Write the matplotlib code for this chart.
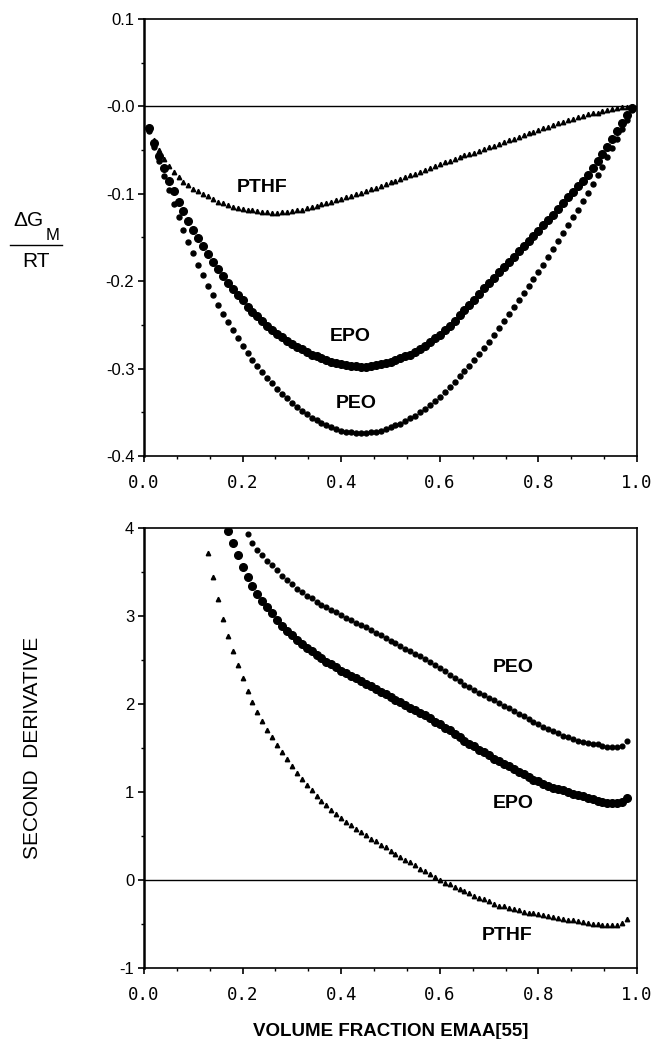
import matplotlib.pyplot as plt
from matplotlib.lines import Line2D

# ---- top panel: dG_M/RT vs volume fraction ----
phi_top = [0.01, 0.02, 0.03, 0.04, 0.05, 0.06, 0.07, 0.08, 0.09, 0.10,
           0.11, 0.12, 0.13, 0.14, 0.15, 0.16, 0.17, 0.18, 0.19, 0.20,
           0.21, 0.22, 0.23, 0.24, 0.25, 0.26, 0.27, 0.28, 0.29, 0.30,
           0.31, 0.32, 0.33, 0.34, 0.35, 0.36, 0.37, 0.38, 0.39, 0.40,
           0.41, 0.42, 0.43, 0.44, 0.45, 0.46, 0.47, 0.48, 0.49, 0.50,
           0.51, 0.52, 0.53, 0.54, 0.55, 0.56, 0.57, 0.58, 0.59, 0.60,
           0.61, 0.62, 0.63, 0.64, 0.65, 0.66, 0.67, 0.68, 0.69, 0.70,
           0.71, 0.72, 0.73, 0.74, 0.75, 0.76, 0.77, 0.78, 0.79, 0.80,
           0.81, 0.82, 0.83, 0.84, 0.85, 0.86, 0.87, 0.88, 0.89, 0.90,
           0.91, 0.92, 0.93, 0.94, 0.95, 0.96, 0.97, 0.98, 0.99]

pthf_g = [-0.025, -0.038, -0.050, -0.060, -0.068, -0.075, -0.081, -0.086, -0.090, -0.094,
          -0.097, -0.100, -0.103, -0.106, -0.109, -0.111, -0.113, -0.115, -0.116, -0.117,
          -0.118, -0.119, -0.120, -0.121, -0.121, -0.122, -0.122, -0.121, -0.121, -0.120,
          -0.119, -0.118, -0.116, -0.115, -0.114, -0.112, -0.111, -0.109, -0.107, -0.106,
          -0.104, -0.102, -0.100, -0.099, -0.097, -0.095, -0.093, -0.091, -0.089, -0.087,
          -0.085, -0.083, -0.081, -0.079, -0.077, -0.075, -0.073, -0.070, -0.068, -0.066,
          -0.064, -0.062, -0.060, -0.058, -0.056, -0.055, -0.053, -0.051, -0.049, -0.047,
          -0.045, -0.043, -0.041, -0.039, -0.037, -0.035, -0.033, -0.031, -0.029, -0.027,
          -0.025, -0.023, -0.021, -0.019, -0.018, -0.016, -0.014, -0.012, -0.011, -0.009,
          -0.008, -0.007, -0.005, -0.004, -0.003, -0.002, -0.001, -0.001, 0.000]

epo_g = [-0.025, -0.042, -0.057, -0.071, -0.085, -0.097, -0.109, -0.120, -0.131, -0.141,
         -0.151, -0.160, -0.169, -0.178, -0.186, -0.194, -0.202, -0.209, -0.216, -0.222,
         -0.229, -0.235, -0.240, -0.246, -0.251, -0.256, -0.260, -0.264, -0.268, -0.272,
         -0.275, -0.278, -0.281, -0.284, -0.286, -0.288, -0.290, -0.292, -0.294, -0.295,
         -0.296, -0.297, -0.297, -0.298, -0.298, -0.297, -0.296, -0.295, -0.294, -0.292,
         -0.290, -0.288, -0.286, -0.284, -0.281, -0.278, -0.274, -0.270, -0.265, -0.261,
         -0.256, -0.251, -0.245, -0.239, -0.233, -0.227, -0.221, -0.215, -0.208, -0.202,
         -0.196, -0.190, -0.184, -0.178, -0.172, -0.166, -0.160, -0.154, -0.148, -0.142,
         -0.136, -0.130, -0.124, -0.117, -0.111, -0.104, -0.098, -0.091, -0.085, -0.078,
         -0.070, -0.062, -0.054, -0.046, -0.037, -0.028, -0.019, -0.010, -0.002]

peo_g = [-0.028, -0.046, -0.063, -0.080, -0.096, -0.112, -0.127, -0.141, -0.155, -0.168,
         -0.181, -0.193, -0.205, -0.216, -0.227, -0.237, -0.247, -0.256, -0.265, -0.274,
         -0.282, -0.290, -0.297, -0.304, -0.311, -0.317, -0.323, -0.329, -0.334, -0.339,
         -0.344, -0.348, -0.352, -0.356, -0.359, -0.362, -0.365, -0.367, -0.369, -0.371,
         -0.372, -0.373, -0.374, -0.374, -0.374, -0.373, -0.372, -0.371, -0.369, -0.367,
         -0.365, -0.363, -0.360, -0.357, -0.354, -0.350, -0.346, -0.342, -0.337, -0.332,
         -0.327, -0.321, -0.315, -0.309, -0.303, -0.297, -0.290, -0.283, -0.276, -0.269,
         -0.262, -0.254, -0.246, -0.238, -0.230, -0.222, -0.214, -0.206, -0.198, -0.189,
         -0.181, -0.172, -0.163, -0.154, -0.145, -0.136, -0.127, -0.118, -0.108, -0.099,
         -0.089, -0.079, -0.069, -0.058, -0.048, -0.037, -0.026, -0.015, -0.004]

# ---- bottom panel: second derivative ----
phi_pthf = phi_top[12:98]
pthf_d2 = [3.72, 3.44, 3.19, 2.97, 2.77, 2.60, 2.44, 2.29, 2.15, 2.02,
           1.91, 1.81, 1.71, 1.62, 1.53, 1.45, 1.37, 1.29, 1.22, 1.15,
           1.08, 1.02, 0.96, 0.90, 0.85, 0.80, 0.75, 0.70, 0.66, 0.62,
           0.58, 0.54, 0.51, 0.47, 0.44, 0.40, 0.37, 0.33, 0.30, 0.26,
           0.23, 0.20, 0.17, 0.13, 0.10, 0.07, 0.03, 0.00, -0.03, -0.05,
           -0.08, -0.10, -0.13, -0.15, -0.18, -0.20, -0.22, -0.24, -0.27, -0.29,
           -0.30, -0.32, -0.33, -0.34, -0.36, -0.37, -0.38, -0.39, -0.40, -0.41,
           -0.42, -0.43, -0.44, -0.45, -0.46, -0.47, -0.48, -0.49, -0.50, -0.50,
           -0.51, -0.51, -0.51, -0.51, -0.49, -0.44]

phi_epo = phi_top[16:98]
epo_d2 = [3.97, 3.83, 3.69, 3.56, 3.44, 3.34, 3.25, 3.17, 3.10, 3.03,
          2.96, 2.89, 2.83, 2.78, 2.73, 2.68, 2.64, 2.60, 2.56, 2.52,
          2.48, 2.45, 2.42, 2.38, 2.35, 2.32, 2.29, 2.26, 2.23, 2.20,
          2.17, 2.14, 2.11, 2.08, 2.05, 2.02, 1.99, 1.96, 1.93, 1.90,
          1.87, 1.84, 1.80, 1.77, 1.73, 1.70, 1.66, 1.62, 1.58, 1.55,
          1.52, 1.48, 1.45, 1.42, 1.38, 1.35, 1.32, 1.29, 1.26, 1.23,
          1.20, 1.17, 1.14, 1.12, 1.09, 1.07, 1.05, 1.03, 1.02, 1.00,
          0.98, 0.97, 0.95, 0.93, 0.92, 0.90, 0.89, 0.88, 0.87, 0.87,
          0.89, 0.93]

phi_peo = phi_top[20:98]
peo_d2 = [3.93, 3.83, 3.75, 3.69, 3.63, 3.58, 3.52, 3.46, 3.41, 3.36,
          3.31, 3.27, 3.23, 3.20, 3.16, 3.13, 3.10, 3.07, 3.04, 3.01,
          2.98, 2.95, 2.92, 2.90, 2.87, 2.84, 2.81, 2.78, 2.75, 2.72,
          2.69, 2.66, 2.63, 2.60, 2.57, 2.54, 2.51, 2.48, 2.44, 2.41,
          2.37, 2.33, 2.30, 2.26, 2.22, 2.19, 2.16, 2.13, 2.10, 2.07,
          2.04, 2.01, 1.98, 1.95, 1.92, 1.89, 1.86, 1.83, 1.80, 1.77,
          1.74, 1.72, 1.69, 1.67, 1.64, 1.62, 1.60, 1.58, 1.57, 1.56,
          1.55, 1.54, 1.52, 1.51, 1.51, 1.51, 1.52, 1.58]

x_ticks = [0.0, 0.2, 0.4, 0.6, 0.8, 1.0]
x_ticklabels = ["0.0", "0.2", "0.4", "0.6", "0.8", "1.0"]
top_yticks = [0.1, 0.0, -0.1, -0.2, -0.3, -0.4]
top_yticklabels = ["0.1", "-0.0", "-0.1", "-0.2", "-0.3", "-0.4"]
bot_yticks = [4, 3, 2, 1, 0, -1]
bot_yticklabels = ["4", "3", "2", "1", "0", "-1"]

plt.rcParams['font.family'] = ['Liberation Sans', 'DejaVu Sans']

fig = plt.figure(figsize=(6.54, 10.39), dpi=100)
W, H = 654, 1039
ax1 = fig.add_axes([144 / W, 1 - 456 / H, 493 / W, 437 / H])
ax2 = fig.add_axes([144 / W, 1 - 968 / H, 493 / W, 440 / H])


def style(ax, yticks, yticklabels, ylim, yminor):
    ax.set_xlim(0, 1)
    ax.set_ylim(*ylim)
    ax.axhline(0, color='black', lw=1.0, zorder=1)
    ax.set_xticks(x_ticks)
    ax.set_xticklabels(x_ticklabels, family='DejaVu Sans Mono', fontsize=12.5)
    ax.set_xticks([0.0667, 0.1333, 0.2667, 0.3333, 0.4667, 0.5333,
                   0.6667, 0.7333, 0.8667, 0.9333], minor=True)
    ax.set_yticks(yticks)
    ax.set_yticklabels(yticklabels, fontsize=12)
    ax.set_yticks(yminor, minor=True)
    ax.tick_params(which='major', direction='out', length=4, width=1.2)
    ax.tick_params(which='minor', direction='out', length=2.5, width=1.0)
    ax.tick_params(axis='x', which='major', pad=9)
    ax.tick_params(axis='y', which='major', pad=3)
    for s in ax.spines.values():
        s.set_linewidth(1.2)
    ax.spines['left'].set_linewidth(1.8)


# top panel
ax1.plot(phi_top, pthf_g, ls='none', marker='^', ms=3.2, color='black')
ax1.plot(phi_top, epo_g, ls='none', marker='o', ms=5.5, color='black')
ax1.plot(phi_top, peo_g, ls='none', marker='o', ms=3.6, color='black')
style(ax1, top_yticks, top_yticklabels, (-0.4, 0.1),
      [0.05, -0.05, -0.15, -0.25, -0.35])
lab = dict(fontsize=14, fontweight='bold', ha='center', va='center')
ax1.text(0.240, -0.093, "PTHF", **lab)
ax1.text(0.419, -0.263, "EPO", **lab)
ax1.text(0.430, -0.340, "PEO", **lab)

# bottom panel
ax2.plot(phi_pthf, pthf_d2, ls='none', marker='^', ms=3.2, color='black', clip_on=True)
ax2.plot(phi_epo, epo_d2, ls='none', marker='o', ms=5.5, color='black', clip_on=True)
ax2.plot(phi_peo, peo_d2, ls='none', marker='o', ms=3.4, color='black', clip_on=True)
style(ax2, bot_yticks, bot_yticklabels, (-1, 4), [3.5, 2.5, 1.5, 0.5, -0.5])
ax2.text(0.75, 2.42, "PEO", **lab)
ax2.text(0.75, 0.87, "EPO", **lab)
ax2.text(0.737, -0.63, "PTHF", **lab)
ax2.set_xlabel("VOLUME FRACTION EMAA[55]", fontsize=13.5, fontweight='bold', labelpad=14)

# y labels
fig.text(33 / W, 1 - 748 / H, "SECOND  DERIVATIVE", rotation=90, fontsize=15,
         ha='center', va='center')
fig.text(28 / W, 1 - 220 / H, "\u0394G", fontsize=15, ha='center', va='center')
fig.text(53 / W, 1 - 235 / H, "M", fontsize=12, ha='center', va='center')
fig.add_artist(Line2D([10 / W, 62 / W], [1 - 245 / H, 1 - 245 / H],
                      transform=fig.transFigure, color='black', lw=1.0))
fig.text(36 / W, 1 - 261 / H, "RT", fontsize=15, ha='center', va='center')

fig.savefig("out.png", dpi=100)
